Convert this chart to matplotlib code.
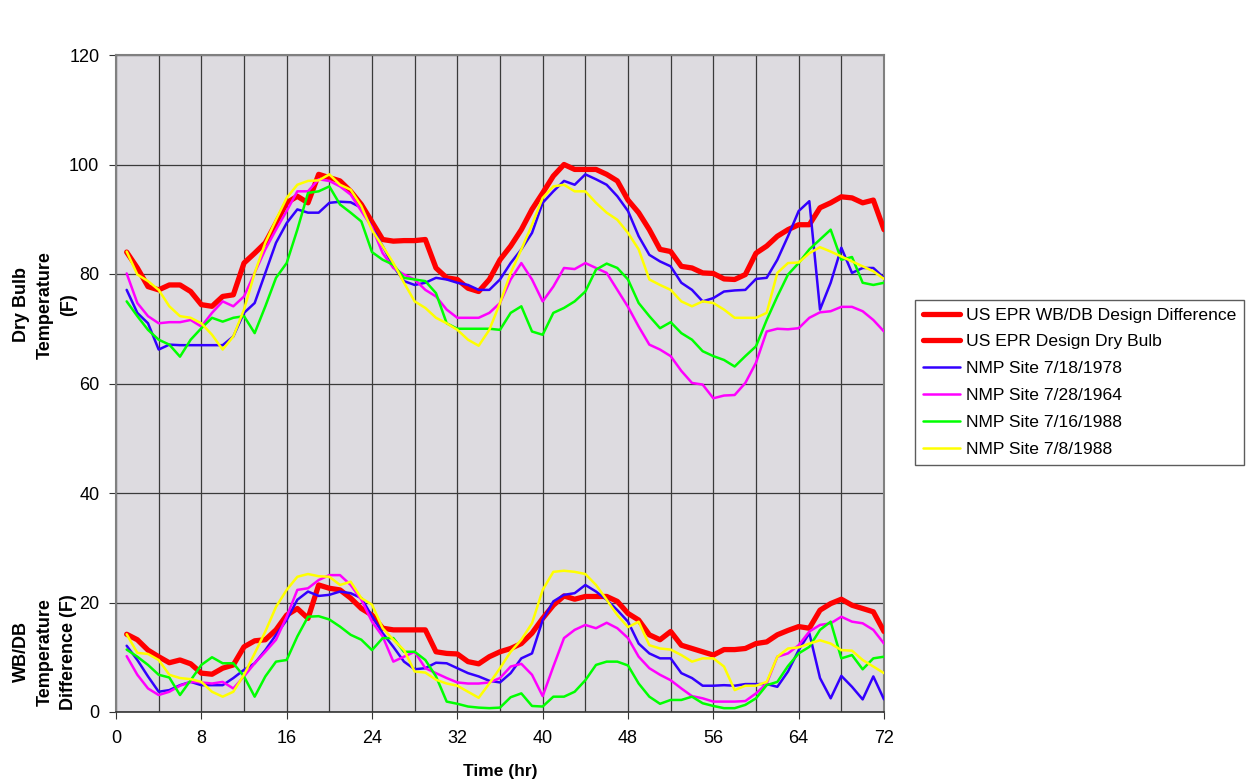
import matplotlib
matplotlib.use("Agg")
import matplotlib.pyplot as plt
import numpy as np

plt.rcParams["font.family"] = ["Liberation Sans", "DejaVu Sans"]

hours = list(range(1, 73))

# dry bulb temperature (F)
db_design = [84.0, 81.1, 77.7, 77.1, 78.0, 78.0, 76.8, 74.4, 74.1, 75.9, 76.2, 82.0,
             83.8, 85.7, 89.3, 93.0, 94.2, 93.0, 98.2, 97.6, 97.0, 95.1, 92.7, 89.5,
             86.3, 86.0, 86.1, 86.1, 86.3, 81.1, 79.3, 79.0, 77.4, 76.8, 79.0, 82.6,
             85.1, 88.1, 91.8, 94.8, 97.9, 100.0, 99.1, 99.1, 99.1, 98.2, 97.0, 93.5,
             91.2, 88.1, 84.5, 84.1, 81.4, 81.1, 80.2, 80.1, 79.1, 79.0, 79.9, 83.8,
             85.1, 86.9, 88.1, 89.0, 89.0, 92.1, 93.0, 94.1, 93.9, 93.0, 93.5, 88.1]
db_1978 = [77.1, 72.9, 71.0, 66.2, 67.1, 67.0, 67.0, 67.0, 67.0, 67.0, 68.6, 72.9,
           74.7, 80.2, 85.7, 89.3, 91.8, 91.2, 91.2, 93.0, 93.2, 93.1, 92.1, 88.5,
           85.1, 81.4, 78.7, 78.0, 78.4, 79.3, 79.0, 78.4, 78.0, 77.1, 77.1, 79.0,
           82.0, 84.5, 87.5, 93.0, 95.1, 97.0, 96.3, 98.2, 97.3, 96.3, 94.2, 91.5,
           86.9, 83.5, 82.3, 81.4, 78.4, 77.1, 75.0, 75.6, 76.8, 77.0, 77.1, 79.1,
           79.3, 82.6, 86.9, 91.5, 93.3, 73.5, 78.4, 84.8, 80.2, 81.1, 81.1, 79.3]
db_1964 = [80.1, 74.7, 72.3, 71.0, 71.2, 71.2, 71.6, 70.4, 72.9, 75.0, 74.1, 75.9,
           80.2, 84.5, 88.1, 91.5, 95.1, 95.1, 97.3, 97.0, 96.0, 94.5, 91.5, 88.5,
           83.8, 81.1, 79.9, 79.0, 77.1, 75.9, 73.5, 72.0, 72.0, 72.0, 72.9, 74.7,
           79.0, 82.0, 79.0, 75.0, 77.7, 81.1, 80.9, 82.0, 81.1, 80.2, 77.1, 74.0,
           70.4, 67.1, 66.2, 65.0, 62.3, 60.1, 59.8, 57.3, 57.8, 57.9, 60.1, 63.8,
           69.5, 70.0, 69.9, 70.1, 72.0, 73.0, 73.2, 74.0, 74.0, 73.2, 71.6, 69.5]
db_0716 = [75.0, 72.3, 69.8, 68.0, 67.1, 64.9, 68.0, 70.1, 72.0, 71.3, 72.0, 72.3,
           69.2, 74.1, 79.3, 82.0, 88.1, 94.8, 95.1, 96.0, 92.7, 91.2, 89.6, 84.0,
           82.6, 81.7, 79.3, 79.0, 78.7, 76.5, 71.0, 70.0, 70.0, 70.0, 70.0, 69.8,
           72.9, 74.1, 69.5, 68.9, 72.9, 73.8, 75.0, 76.8, 80.8, 81.9, 81.1, 79.0,
           74.7, 72.3, 70.1, 71.2, 69.2, 68.0, 65.9, 65.0, 64.3, 63.1, 65.0, 66.8,
           71.6, 75.9, 79.9, 82.0, 84.5, 86.3, 88.1, 82.6, 83.1, 78.4, 78.0, 78.4]
db_0708 = [84.1, 79.9, 78.7, 77.1, 74.1, 72.3, 72.0, 71.0, 68.9, 66.2, 68.6, 73.5,
           80.2, 85.7, 89.9, 93.9, 96.3, 97.0, 97.1, 98.2, 96.3, 95.4, 92.4, 88.0,
           85.1, 82.0, 78.4, 75.0, 73.8, 72.0, 71.0, 69.8, 68.0, 66.9, 69.8, 74.7,
           80.2, 84.5, 89.0, 93.9, 96.0, 96.3, 95.1, 95.1, 93.0, 91.2, 89.9, 87.5,
           84.5, 79.0, 78.0, 77.1, 75.0, 74.1, 75.0, 74.7, 73.5, 72.0, 72.0, 72.0,
           72.9, 80.2, 82.0, 82.1, 83.8, 84.9, 84.1, 83.2, 82.3, 81.4, 80.5, 79.1]

# wet bulb / dry bulb difference (F)
diff_design = [14.2, 13.2, 11.3, 10.1, 9.0, 9.5, 8.8, 7.1, 6.9, 8.0, 8.6, 11.9,
               13.0, 13.2, 15.0, 17.7, 18.9, 17.1, 23.2, 22.6, 22.3, 20.8, 18.9, 17.7,
               15.3, 15.0, 15.0, 15.0, 15.0, 11.0, 10.7, 10.6, 9.2, 8.8, 10.1, 11.0,
               11.6, 12.5, 14.4, 17.1, 19.5, 21.2, 20.6, 21.1, 21.1, 21.1, 20.2, 18.0,
               16.8, 14.1, 13.2, 14.7, 12.2, 11.6, 11.0, 10.4, 11.4, 11.4, 11.6, 12.5,
               12.8, 14.1, 14.9, 15.6, 15.3, 18.6, 19.8, 20.6, 19.5, 18.9, 18.3, 14.7]
diff_1978 = [12.1, 9.5, 6.5, 3.7, 4.0, 4.9, 5.5, 4.9, 4.9, 4.9, 6.2, 7.7,
             8.9, 11.3, 14.1, 16.8, 20.5, 22.0, 21.2, 21.4, 22.0, 21.7, 20.8, 17.5,
             14.4, 11.9, 9.2, 7.8, 8.0, 9.0, 8.9, 8.0, 7.1, 6.5, 5.7, 5.4,
             7.1, 9.8, 10.7, 16.8, 20.2, 21.4, 21.7, 23.2, 22.0, 20.5, 18.6, 16.5,
             12.5, 10.7, 9.8, 9.8, 7.1, 6.2, 4.8, 4.8, 4.9, 4.8, 5.1, 5.1,
             5.1, 4.6, 7.4, 11.3, 14.4, 6.2, 2.5, 6.6, 4.6, 2.3, 6.5, 2.3]
diff_1964 = [10.2, 6.8, 4.3, 3.1, 3.7, 4.8, 5.5, 5.4, 5.2, 5.5, 4.3, 6.5,
             8.9, 11.0, 13.2, 17.4, 22.3, 22.6, 24.1, 25.0, 25.0, 23.2, 20.5, 16.5,
             13.8, 9.2, 10.1, 11.0, 8.0, 7.1, 6.2, 5.4, 5.2, 5.2, 5.4, 6.2,
             8.3, 8.8, 6.8, 2.9, 8.3, 13.5, 15.0, 15.9, 15.3, 16.3, 15.3, 13.5,
             10.1, 8.0, 6.8, 5.8, 4.3, 2.9, 2.5, 1.9, 1.9, 1.9, 2.0, 3.4,
             5.2, 10.1, 10.7, 12.2, 14.7, 15.9, 16.2, 17.4, 16.5, 16.2, 15.0, 12.5]
diff_0716 = [11.4, 10.1, 8.6, 6.8, 6.3, 3.1, 5.8, 8.6, 10.0, 8.9, 8.9, 6.5,
             2.8, 6.5, 9.2, 9.5, 13.8, 17.4, 17.5, 16.9, 15.6, 14.1, 13.2, 11.3,
             13.5, 13.5, 11.0, 11.0, 9.5, 6.5, 1.9, 1.5, 1.0, 0.8, 0.7, 0.8,
             2.7, 3.4, 1.1, 1.0, 2.8, 2.8, 3.7, 5.8, 8.6, 9.2, 9.2, 8.5,
             5.2, 2.8, 1.5, 2.2, 2.2, 2.8, 1.6, 1.1, 0.7, 0.7, 1.3, 2.5,
             4.9, 5.5, 8.4, 10.7, 11.9, 15.0, 16.5, 9.8, 10.4, 7.8, 9.8, 10.1]
diff_0708 = [14.2, 10.8, 10.6, 9.5, 6.8, 6.2, 6.0, 5.5, 3.7, 2.8, 3.7, 6.8,
             10.7, 14.7, 19.2, 22.3, 24.7, 25.2, 24.8, 24.7, 23.2, 23.8, 20.8, 19.6,
             15.3, 13.2, 11.3, 7.4, 7.2, 5.9, 5.2, 4.8, 3.7, 2.6, 5.2, 8.0,
             11.0, 13.2, 16.2, 22.3, 25.6, 25.8, 25.6, 25.2, 23.2, 20.5, 17.7, 15.5,
             16.5, 12.2, 11.6, 11.4, 10.4, 9.2, 9.8, 9.8, 8.3, 4.0, 4.8, 4.8,
             5.5, 10.1, 11.6, 11.8, 12.5, 13.1, 12.5, 11.3, 11.2, 9.5, 8.3, 7.1]

labels = ["US EPR WB/DB Design Difference", "US EPR Design Dry Bulb",
          "NMP Site 7/18/1978", "NMP Site 7/28/1964",
          "NMP Site 7/16/1988", "NMP Site 7/8/1988"]
colors = ["#FF0000", "#FF0000", "#3300FF", "#FF00FF", "#00FF00", "#FFFF00"]
widths = [3.8, 3.8, 1.8, 1.8, 1.8, 1.8]

top_series = [None, db_design, db_1978, db_1964, db_0716, db_0708]
bottom_series = [diff_design, None, diff_1978, diff_1964, diff_0716, diff_0708]

fig = plt.figure(figsize=(12.53, 7.82), dpi=100)
ax = fig.add_axes([116 / 1253, 1 - 712 / 782, 768 / 1253, 657 / 782])
ax.set_facecolor("#DDDBE0")

handles = []
for lab, col, lw, top, bot in zip(labels, colors, widths, top_series, bottom_series):
    line = None
    for vals in (bot, top):
        if vals is None:
            continue
        (l,) = ax.plot(hours, vals, color=col, lw=lw, solid_joinstyle="round",
                       solid_capstyle="round", zorder=3)
        line = line or l
    handles.append(line)

ax.set_xlim(0, 72)
ax.set_ylim(0, 120)
ax.set_xticks(np.arange(0, 73, 8))
ax.set_xticks(np.arange(0, 73, 4), minor=True)
ax.set_yticks(np.arange(0, 121, 20))
ax.grid(True, which="both", axis="x", color="#3A3A3A", lw=0.9, zorder=1)
ax.grid(True, which="major", axis="y", color="#3A3A3A", lw=0.9, zorder=1)
ax.tick_params(axis="x", which="minor", length=0)
ax.tick_params(axis="both", which="major", labelsize=13, direction="out",
               length=5, color="#333333")
ax.tick_params(axis="x", which="major", pad=8)
ax.tick_params(axis="y", which="major", pad=7)
for side in ["left", "top", "right"]:
    ax.spines[side].set_color("#808080")
    ax.spines[side].set_linewidth(1.5)
ax.spines["bottom"].set_color("#333333")
ax.spines["bottom"].set_linewidth(1.2)

ax.set_xlabel("Time (hr)", fontsize=12.5, fontweight="bold", labelpad=12)

fig.text(45 / 1253, 1 - 305 / 782, "Dry Bulb\nTemperature\n(F)", rotation=90,
         ha="center", va="center", fontsize=13, fontweight="bold",
         multialignment="center", linespacing=1.5)
fig.text(45 / 1253, 1 - 652 / 782, "WB/DB\nTemperature\nDifference (F)", rotation=90,
         ha="center", va="center", fontsize=13, fontweight="bold",
         multialignment="center", linespacing=1.5)

leg = fig.legend(handles, labels, loc="center left",
                 bbox_to_anchor=(915 / 1253, 1 - 382 / 782), fontsize=12.6,
                 frameon=True, fancybox=False, edgecolor="#333333",
                 handlelength=2.1, handletextpad=0.35, labelspacing=0.66,
                 borderpad=0.45, borderaxespad=0)
leg.get_frame().set_linewidth(1.0)

fig.savefig("out.png", dpi=100, facecolor="white")
